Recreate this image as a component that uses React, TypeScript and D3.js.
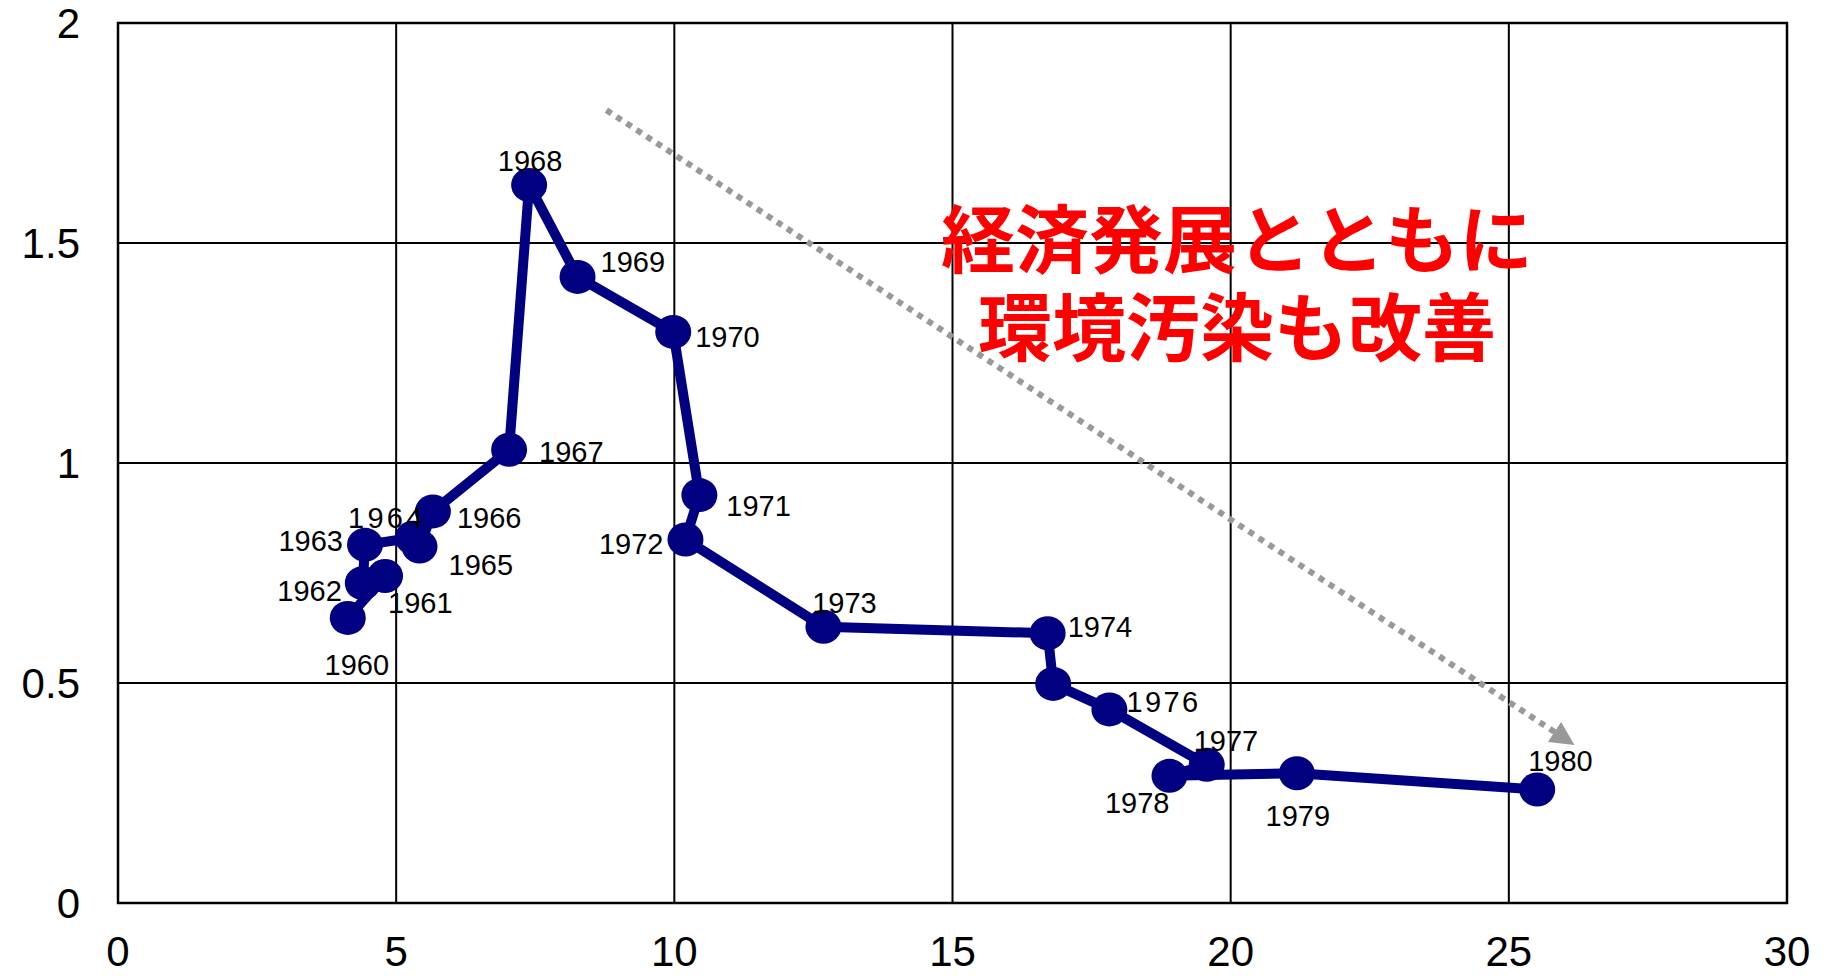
import React from "react";
import * as d3 from "d3";

const years = [1960, 1961, 1962, 1963, 1964, 1965, 1966, 1967, 1968, 1969, 1970, 1971, 1972, 1973, 1974, 1975, 1976, 1977, 1978, 1979, 1980];
const xValues = [4.13, 4.80, 4.40, 4.44, 5.30, 5.42, 5.66, 7.03, 7.39, 8.26, 9.98, 10.45, 10.20, 12.68, 16.71, 16.81, 17.82, 19.57, 18.90, 21.19, 25.51];
const yValues = [0.648, 0.743, 0.727, 0.814, 0.83, 0.81, 0.89, 1.03, 1.632, 1.423, 1.298, 0.927, 0.826, 0.628, 0.613, 0.498, 0.44, 0.314, 0.289, 0.295, 0.258];
const showLabel = [true, true, true, true, true, true, true, true, true, true, true, true, true, true, true, false, true, true, true, true, true];

const xTicks = [0, 5, 10, 15, 20, 25, 30];
const yTicks = [0, 0.5, 1, 1.5, 2];
const yTickLabels = ["0", "0.5", "1", "1.5", "2"];

const trendFrom = { x: 8.78, y: 1.802 };
const trendTo = { x: 26.0, y: 0.374 };

const titleLines = ["経済発展とともに", "環境汚染も改善"];

// label placement: [dx, dy, anchor, letterSpacing]
const labelPlacement: [number, number, string, number][] = [
  [9, 57, "middle", 0],
  [3, 37, "start", 0],
  [-21, 18, "end", 0],
  [-22, 6, "end", 0],
  [-26, -10, "middle", 3.3],
  [29, 28, "start", 0],
  [24, 17, "start", 0],
  [30, 12, "start", 0],
  [1, -14, "middle", 0],
  [23, -5, "start", 0],
  [22, 15, "start", 0],
  [27, 21, "start", 0],
  [-22, 14, "end", 0],
  [21, -14, "middle", 0],
  [20, 4, "start", 0],
  [0, 0, "start", 0],
  [17, 3, "start", 2.4],
  [-13, -14, "start", 0],
  [0, 37, "end", 0],
  [1, 53, "middle", 0],
  [-9, -18, "start", 0],
];

const W = 1831;
const H = 976;
const left = 118, right = 1787, top = 23, bottom = 903;

export default function App() {
  const x = d3.scaleLinear().domain([0, 30]).range([left, right]);
  const y = d3.scaleLinear().domain([0, 2]).range([bottom, top]);
  const pts = years.map((yr, i) => ({ yr, x: xValues[i], y: yValues[i], i }));
  const line = d3
    .line<{ x: number; y: number }>()
    .x((d) => x(d.x))
    .y((d) => y(d.y));

  const fontNum = "'Liberation Sans', Arial, sans-serif";

  return (
    <svg
      width={W}
      height={H}
      style={{ position: "absolute", left: 0, top: 0, display: "block", background: "#fff" }}
    >
      <defs>
        <marker id="arr" viewBox="0 0 10 10" refX="5" refY="5" markerWidth="4" markerHeight="4" orient="auto" markerUnits="strokeWidth">
          <path d="M0,0 L10,5 L0,10 z" fill="#999999" />
        </marker>
      </defs>
      <rect x={0} y={0} width={W} height={H} fill="#fff" />
      {/* grid */}
      {xTicks.map((t) => (
        <line key={"gx" + t} x1={x(t)} x2={x(t)} y1={top} y2={bottom} stroke="#000" strokeWidth={2} />
      ))}
      {yTicks.map((t) => (
        <line key={"gy" + t} x1={left} x2={right} y1={y(t)} y2={y(t)} stroke="#000" strokeWidth={2} />
      ))}
      <rect x={left} y={top} width={right - left} height={bottom - top} fill="none" stroke="#000" strokeWidth={2.5} />
      {/* tick labels */}
      {yTicks.map((t, i) => (
        <text key={"ty" + t} x={80} y={y(t)} dy="0.36em" textAnchor="end" fontFamily={fontNum} fontSize={42} fill="#000">
          {yTickLabels[i]}
        </text>
      ))}
      {xTicks.map((t) => (
        <text key={"tx" + t} x={x(t)} y={966} textAnchor="middle" fontFamily={fontNum} fontSize={42} fill="#000">
          {t}
        </text>
      ))}
      {/* trend arrow */}
      <line
        x1={x(trendFrom.x)}
        y1={y(trendFrom.y)}
        x2={x(trendTo.x)}
        y2={y(trendTo.y)}
        stroke="#999999"
        strokeWidth={6}
        strokeDasharray="6 6"
        markerEnd="url(#arr)"
      />
      {/* series */}
      <path d={line(pts) || ""} fill="none" stroke="#000080" strokeWidth={10} strokeLinejoin="round" />
      {pts.map((p) => (
        <ellipse key={"c" + p.yr} cx={x(p.x)} cy={y(p.y)} rx={18} ry={17} fill="#000080" />
      ))}
      {pts.map((p) =>
        showLabel[p.i] ? (
          <text
            key={"l" + p.yr}
            x={x(p.x) + labelPlacement[p.i][0]}
            y={y(p.y) + labelPlacement[p.i][1]}
            textAnchor={labelPlacement[p.i][2] as any}
            letterSpacing={labelPlacement[p.i][3]}
            fontFamily={fontNum}
            fontSize={29}
            fill="#000"
          >
            {p.yr}
          </text>
        ) : null
      )}
      {/* annotation */}
      {titleLines.map((s, i) => (
        <text
          key={"t" + i}
          x={1237}
          y={267 + i * 88}
          textAnchor="middle"
          fontFamily="'Noto Sans CJK JP', sans-serif"
          fontWeight={700}
          fontSize={74}
          fill="#FF0000"
        >
          {s}
        </text>
      ))}
    </svg>
  );
}
